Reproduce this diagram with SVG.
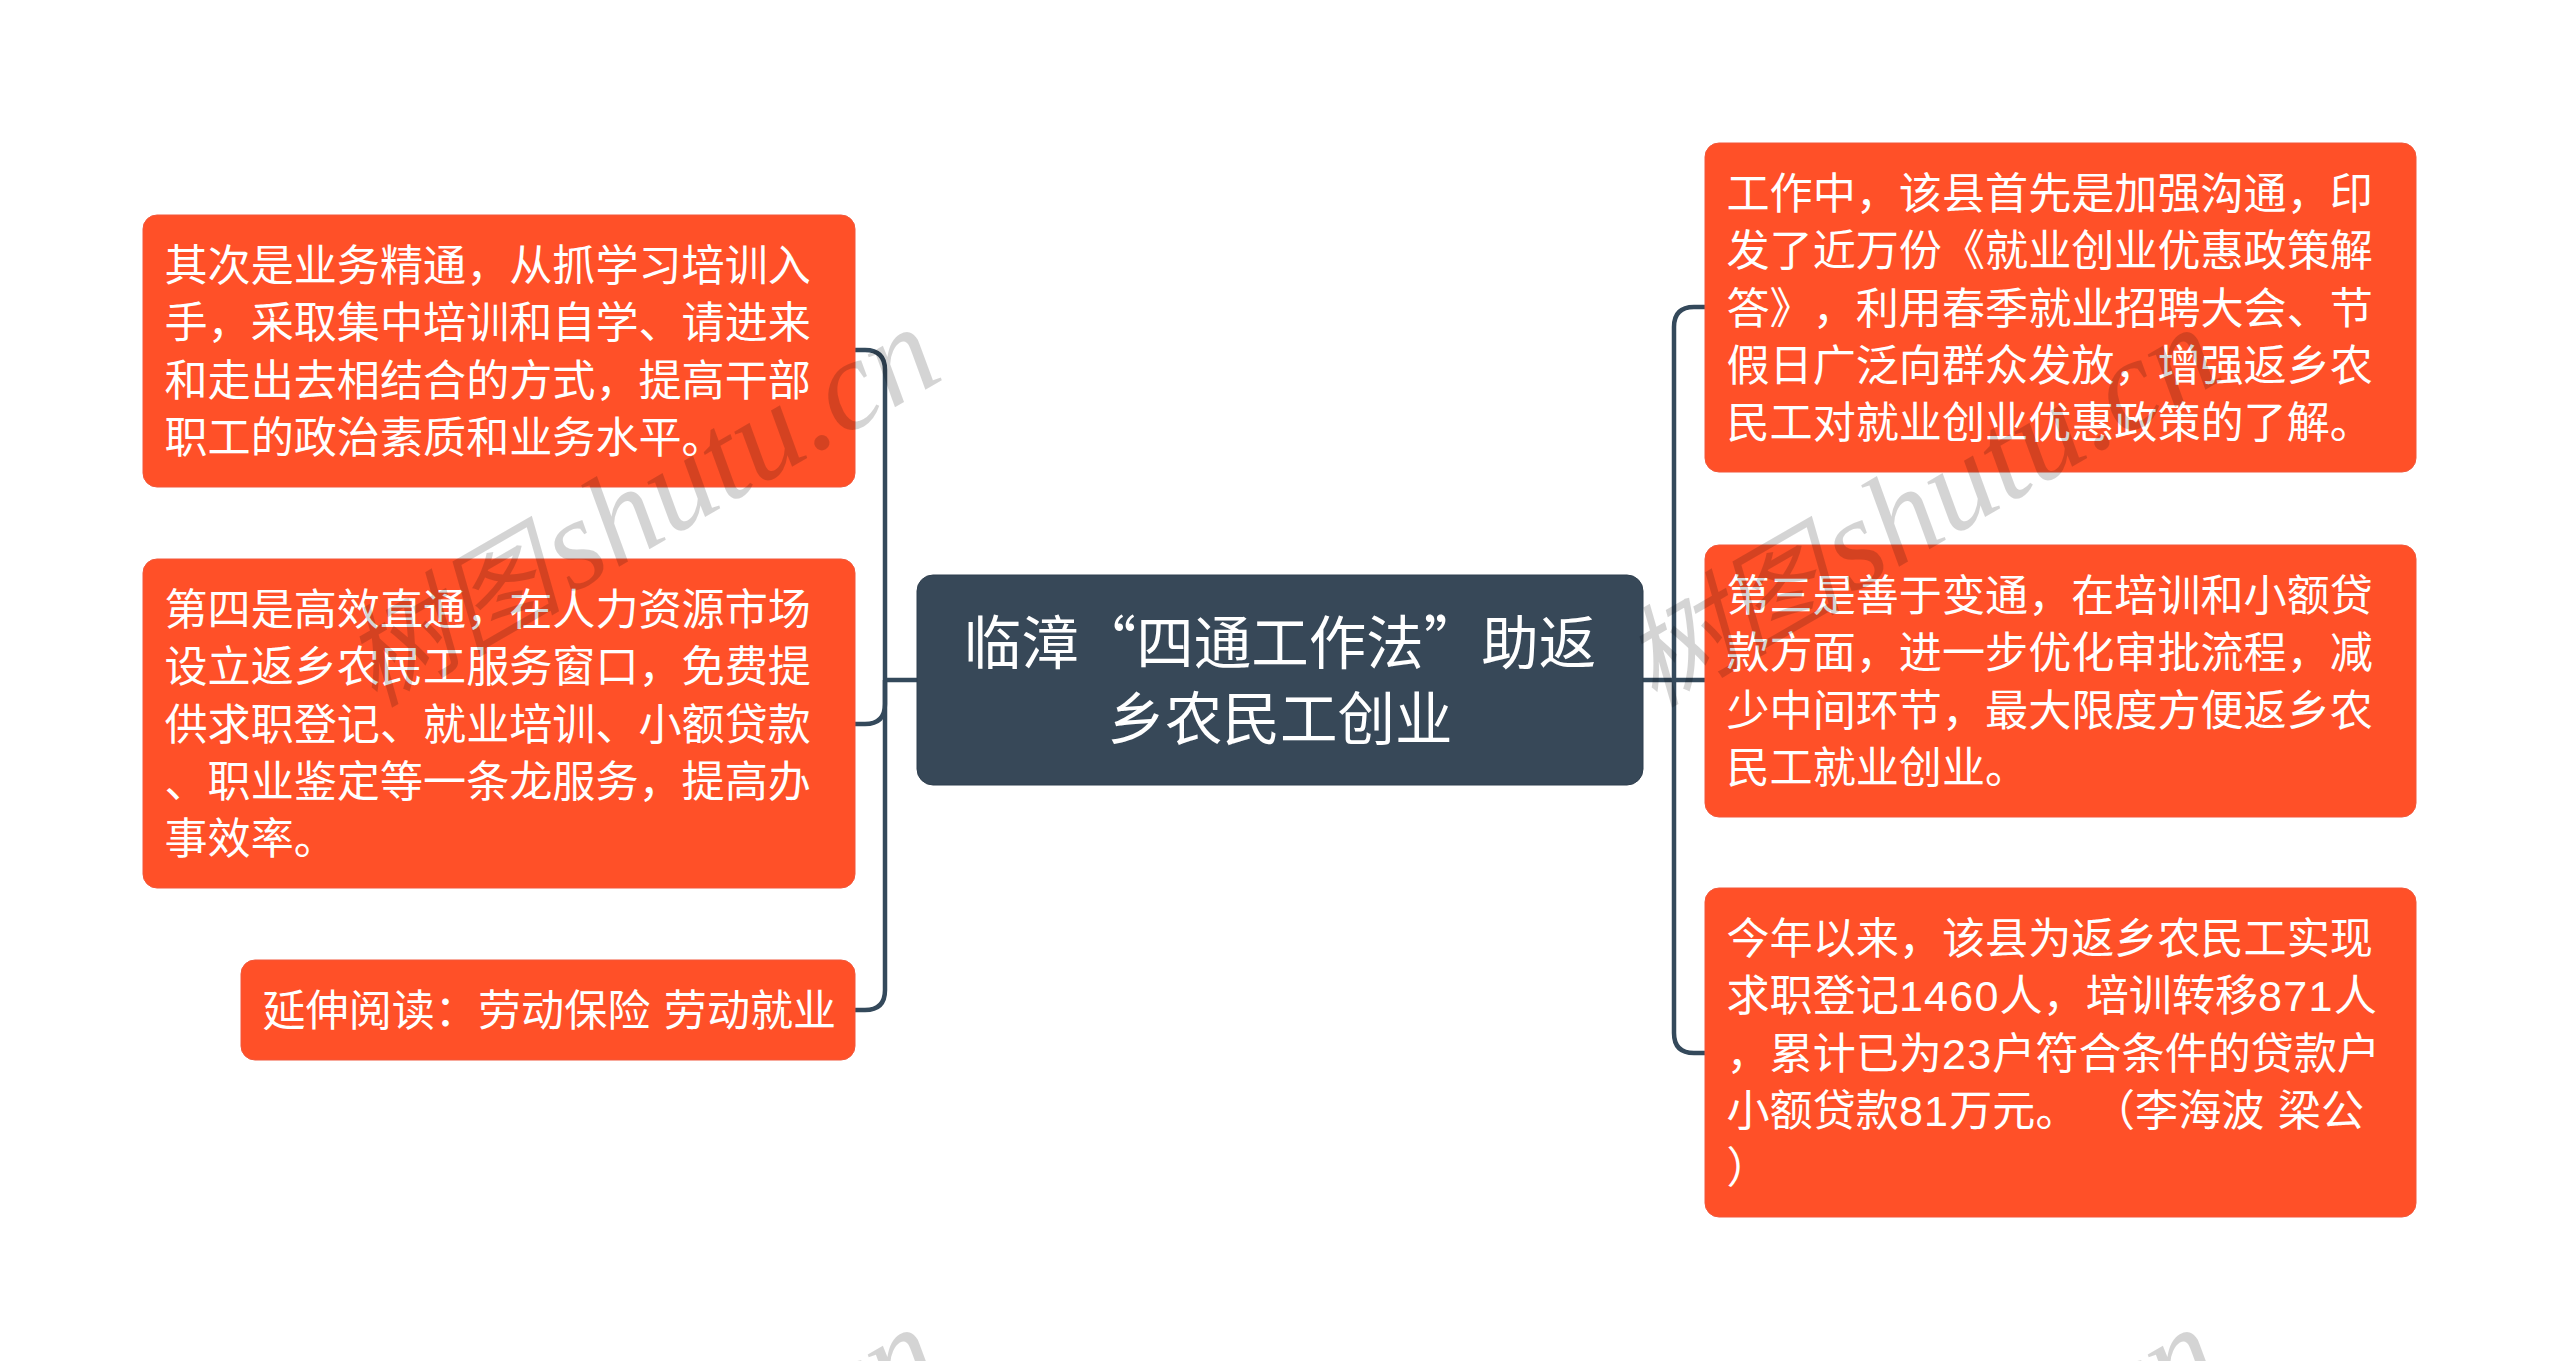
<svg xmlns="http://www.w3.org/2000/svg" width="2560" height="1361" viewBox="0 0 2560 1361">
<style>
.bg{fill:#fff}
.n rect{fill:#ff5028;stroke:#f2573a;stroke-width:1}
.c rect{fill:#374858;stroke:#2f3f4e;stroke-width:1}
text{fill:#fff;font-family:"Liberation Sans","Noto Sans CJK SC",sans-serif;font-weight:400;text-spacing-trim:space-all;font-kerning:none}
.n text{font-size:43.1px;word-spacing:1.5px}
.d{letter-spacing:1.2px}
.c text{font-size:57.5px;text-anchor:middle;font-family:"Noto Sans CJK SC",sans-serif}
#connectors path{fill:none;stroke:#34495b;stroke-width:4.5}
text.wm{fill:#000;fill-opacity:.17;font-size:129px;font-style:italic;font-family:"Liberation Serif","Noto Sans CJK SC",serif;font-weight:400}
.wc{font-size:110px}
</style>
<defs>
<text id="wmt" class="wm" transform="rotate(-30)"><tspan class="wc">树图</tspan><tspan dx="8">shutu.cn</tspan></text>
</defs>
<rect class="bg" width="2560" height="1361"/>
<g id="connectors">
<path d="M855 350H865Q885 350 885 370V990Q885 1010 865 1010H855"/>
<path d="M855 724H865Q885 724 885 704V680"/>
<path d="M885 680H917"/>
<path d="M1705 307H1694Q1674 307 1674 327V1033Q1674 1053 1694 1053H1705"/>
<path d="M1643 680H1705"/>
</g>
<g id="center" class="c"><rect x="917" y="575" width="726" height="210" rx="16"/>
<text><tspan x="1280" y="664">临漳“四通工作法”助返</tspan><tspan x="1280" y="740">乡农民工创业</tspan></text></g>
<g id="node-l1" class="n"><rect x="143" y="215" width="712" height="272" rx="14"/>
<text><tspan x="164.5" y="281">其次是业务精通，从抓学习培训入</tspan><tspan x="164.5" y="338.3">手，采取集中培训和自学、请进来</tspan><tspan x="164.5" y="395.6">和走出去相结合的方式，提高干部</tspan><tspan x="164.5" y="452.9">职工的政治素质和业务水平。</tspan></text></g>
<g id="node-l2" class="n"><rect x="143" y="559" width="712" height="329" rx="14"/>
<text><tspan x="164.5" y="625">第四是高效直通，在人力资源市场</tspan><tspan x="164.5" y="682.3">设立返乡农民工服务窗口，免费提</tspan><tspan x="164.5" y="739.6">供求职登记、就业培训、小额贷款</tspan><tspan x="164.5" y="796.9">、职业鉴定等一条龙服务，提高办</tspan><tspan x="164.5" y="854.2">事效率。</tspan></text></g>
<g id="node-l3" class="n"><rect x="241" y="960" width="614" height="100" rx="14"/>
<text x="262.5" y="1026">延伸阅读：劳动保险 劳动就业</text></g>
<g id="node-r1" class="n"><rect x="1705" y="143" width="711" height="329" rx="14"/>
<text><tspan x="1726.5" y="209">工作中，该县首先是加强沟通，印</tspan><tspan x="1726.5" y="266.3">发了近万份《就业创业优惠政策解</tspan><tspan x="1726.5" y="323.6">答》，利用春季就业招聘大会、节</tspan><tspan x="1726.5" y="380.9">假日广泛向群众发放，增强返乡农</tspan><tspan x="1726.5" y="438.2">民工对就业创业优惠政策的了解。</tspan></text></g>
<g id="node-r2" class="n"><rect x="1705" y="545" width="711" height="272" rx="14"/>
<text><tspan x="1726.5" y="611">第三是善于变通，在培训和小额贷</tspan><tspan x="1726.5" y="668.3">款方面，进一步优化审批流程，减</tspan><tspan x="1726.5" y="725.6">少中间环节，最大限度方便返乡农</tspan><tspan x="1726.5" y="782.9">民工就业创业。</tspan></text></g>
<g id="node-r3" class="n"><rect x="1705" y="888" width="711" height="329" rx="14"/>
<text><tspan x="1726.5" y="954">今年以来，该县为返乡农民工实现</tspan><tspan x="1726.5" y="1011.3">求职登记<tspan class="d">1460</tspan>人，培训转移<tspan class="d">871</tspan>人</tspan><tspan x="1726.5" y="1068.6">，累计已为<tspan class="d">23</tspan>户符合条件的贷款户</tspan><tspan x="1726.5" y="1125.9">小额贷款<tspan class="d">81</tspan>万元。 （李海波 梁公</tspan><tspan x="1726.5" y="1183.2">）</tspan></text></g>
<g id="watermarks">
<use href="#wmt" transform="translate(374,708)"/>
<use href="#wmt" transform="translate(1654,708)"/>
<use href="#wmt" transform="translate(374,1708)"/>
<use href="#wmt" transform="translate(1654,1708)"/>
</g>
</svg>
